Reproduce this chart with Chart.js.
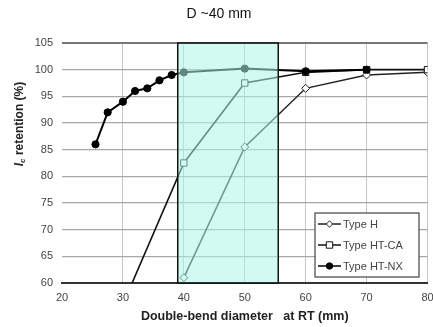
<!DOCTYPE html>
<html>
<head>
<meta charset="utf-8">
<script src="https://cdn.jsdelivr.net/npm/chart.js@4/dist/chart.umd.min.js"></script>
<style>
  html, body { margin: 0; padding: 0; background: #fff; }
  #wrap { width: 433px; height: 327px; position: relative; }
</style>
</head>
<body>
<div id="wrap"><canvas id="chart"></canvas></div>
<script>
// ── Data ──
const xTicks = [20, 30, 40, 50, 60, 70, 80];
const yTicks = [60, 65, 70, 75, 80, 85, 90, 95, 100, 105];

const typeHX = [40, 50, 60, 70, 80];
const typeHY = [61, 85.5, 96.5, 99, 99.5];

const typeCAX = [30, 40, 50, 60, 70, 80];
const typeCAY = [56, 82.5, 97.5, 99.5, 100, 100];

const typeNXX = [25.5, 27.5, 30, 32, 34, 36, 38, 40, 50, 60, 70];
const typeNXY = [86, 92, 94, 96, 96.5, 98, 99, 99.5, 100.2, 99.7, 100];

const bandRange = [39, 55.5];   // highlighted diameter range (mm)

const toPts = (xs, ys) => xs.map((x, i) => ({ x, y: ys[i] }));

// ── Highlight band (drawn over the lines, semi-transparent) ──
const bandPlugin = {
    id: 'band',
    afterDatasetsDraw(chart) {
        const { ctx, chartArea, scales } = chart;
        const x0 = scales.x.getPixelForValue(bandRange[0]);
        const x1 = scales.x.getPixelForValue(bandRange[1]);
        ctx.save();
        ctx.fillStyle = 'rgba(175,245,232,0.55)';
        ctx.fillRect(x0, chartArea.top, x1 - x0, chartArea.bottom - chartArea.top);
        ctx.strokeStyle = '#111';
        ctx.lineWidth = 1.5;
        ctx.strokeRect(x0, chartArea.top, x1 - x0, chartArea.bottom - chartArea.top);
        ctx.restore();
    }
};

// ── Chart title, a little right of centre as in the original ──
const topTitlePlugin = {
    id: 'topTitle',
    afterDraw(chart) {
        const ctx = chart.ctx;
        ctx.save();
        ctx.font = '14px Arial';
        ctx.fillStyle = '#111';
        ctx.textAlign = 'center';
        ctx.textBaseline = 'middle';
        ctx.fillText('D ~40 mm', 219, 14);
        ctx.restore();
    }
};

// ── Y title with italic I and subscript c ──
const yTitlePlugin = {
    id: 'yTitle',
    afterDraw(chart) {
        const ctx = chart.ctx;
        const parts = [
            { t: 'I', f: 'italic bold 12px Arial', dy: 0 },
            { t: 'c', f: 'italic bold 8px Arial', dy: 3 },
            { t: ' retention (%)', f: 'bold 12px Arial', dy: 0 }
        ];
        ctx.save();
        let w = 0;
        parts.forEach(p => { ctx.font = p.f; p.w = ctx.measureText(p.t).width; w += p.w; });
        ctx.translate(20, 124);
        ctx.rotate(-Math.PI / 2);
        ctx.fillStyle = '#222';
        ctx.textBaseline = 'middle';
        let x = -w / 2;
        parts.forEach(p => { ctx.font = p.f; ctx.fillText(p.t, x, p.dy); x += p.w; });
        ctx.restore();
    }
};

// ── Legend box inside the plot ──
const legendPlugin = {
    id: 'boxLegend',
    afterDraw(chart) {
        const ctx = chart.ctx;
        const bx = 315, by = 213, bw = 104, bh = 64;
        ctx.save();
        ctx.fillStyle = '#fff';
        ctx.fillRect(bx, by, bw, bh);
        ctx.strokeStyle = '#444';
        ctx.lineWidth = 1.2;
        ctx.strokeRect(bx, by, bw, bh);
        chart.data.datasets.forEach((ds, i) => {
            const y = by + 11 + i * 21;
            ctx.strokeStyle = ds.borderColor;
            ctx.lineWidth = 1.5;
            ctx.beginPath(); ctx.moveTo(bx + 3, y); ctx.lineTo(bx + 26, y); ctx.stroke();
            const cx = bx + 14.5, r = 3.2;
            ctx.fillStyle = ds.pointBackgroundColor;
            ctx.strokeStyle = ds.pointBorderColor;
            ctx.lineWidth = 1;
            ctx.beginPath();
            if (ds.pointStyle === 'rectRot') {
                ctx.moveTo(cx, y - r); ctx.lineTo(cx + r, y); ctx.lineTo(cx, y + r); ctx.lineTo(cx - r, y); ctx.closePath();
            } else if (ds.pointStyle === 'rect') {
                ctx.rect(cx - r, y - r, 2 * r, 2 * r);
            } else {
                ctx.arc(cx, y, r, 0, Math.PI * 2);
            }
            ctx.fill(); ctx.stroke();
            ctx.fillStyle = '#444';
            ctx.font = '11px Arial';
            ctx.textBaseline = 'middle';
            ctx.fillText(ds.label, bx + 28, y + 0.5);
        });
        ctx.restore();
    }
};

new Chart(document.getElementById('chart'), {
    type: 'line',
    data: {
        datasets: [
            {
                label: 'Type H',
                data: toPts(typeHX, typeHY),
                borderColor: '#222', borderWidth: 1.5,
                pointStyle: 'rectRot', pointRadius: 4,
                pointBackgroundColor: '#fff', pointBorderColor: '#222', pointBorderWidth: 1,
                order: 3
            },
            {
                label: 'Type HT-CA',
                data: toPts(typeCAX, typeCAY),
                borderColor: '#111', borderWidth: 1.6,
                pointStyle: 'rect', pointRadius: 4.5,
                pointBackgroundColor: '#fff', pointBorderColor: '#111', pointBorderWidth: 1,
                order: 2
            },
            {
                label: 'Type HT-NX',
                data: toPts(typeNXX, typeNXY),
                borderColor: '#000', borderWidth: 2,
                pointStyle: 'circle', pointRadius: 3.6,
                pointBackgroundColor: '#000', pointBorderColor: '#000', pointBorderWidth: 1,
                order: 1
            }
        ]
    },
    options: {
        responsive: true,
        maintainAspectRatio: false,
        animation: false,
        layout: { padding: { left: 0, right: 5, top: 43, bottom: 0 } },
        plugins: {
            legend: { display: false },
            tooltip: { enabled: false },
            title: { display: false }
        },
        scales: {
            x: {
                type: 'linear',
                min: 20, max: 80,
                afterBuildTicks: s => { s.ticks = xTicks.map(v => ({ value: v })); },
                afterFit: s => { s.height = 44; s.paddingRight = 0; s.paddingLeft = 0; },
                ticks: { color: '#444', font: { family: 'Arial', size: 11 }, padding: 8 },
                grid: {
                    drawTicks: false,
                    color: c => c.tick && c.tick.value === 20 ? 'rgba(0,0,0,0)' : '#c4c4c4',
                    lineWidth: 1
                },
                border: { display: true, color: '#333', width: 2 },
                title: {
                    display: true,
                    text: 'Double-bend diameter   at RT (mm)',
                    color: '#222',
                    font: { family: 'Arial', size: 12.5, weight: 'bold' },
                    padding: { top: 0, bottom: 3 }
                }
            },
            y: {
                min: 60, max: 105,
                afterBuildTicks: s => { s.ticks = yTicks.map(v => ({ value: v })); },
                afterFit: s => { s.width = 62; s.paddingTop = 0; },
                ticks: { color: '#444', font: { family: 'Arial', size: 11 }, padding: 9 },
                grid: {
                    drawTicks: false,
                    color: c => c.tick && c.tick.value === 105 ? '#777' : '#a8a8a8',
                    lineWidth: c => c.tick && c.tick.value === 105 ? 2 : 1.3
                },
                border: { display: false }
            }
        }
    },
    plugins: [bandPlugin, topTitlePlugin, yTitlePlugin, legendPlugin]
});
</script>
</body>
</html>
